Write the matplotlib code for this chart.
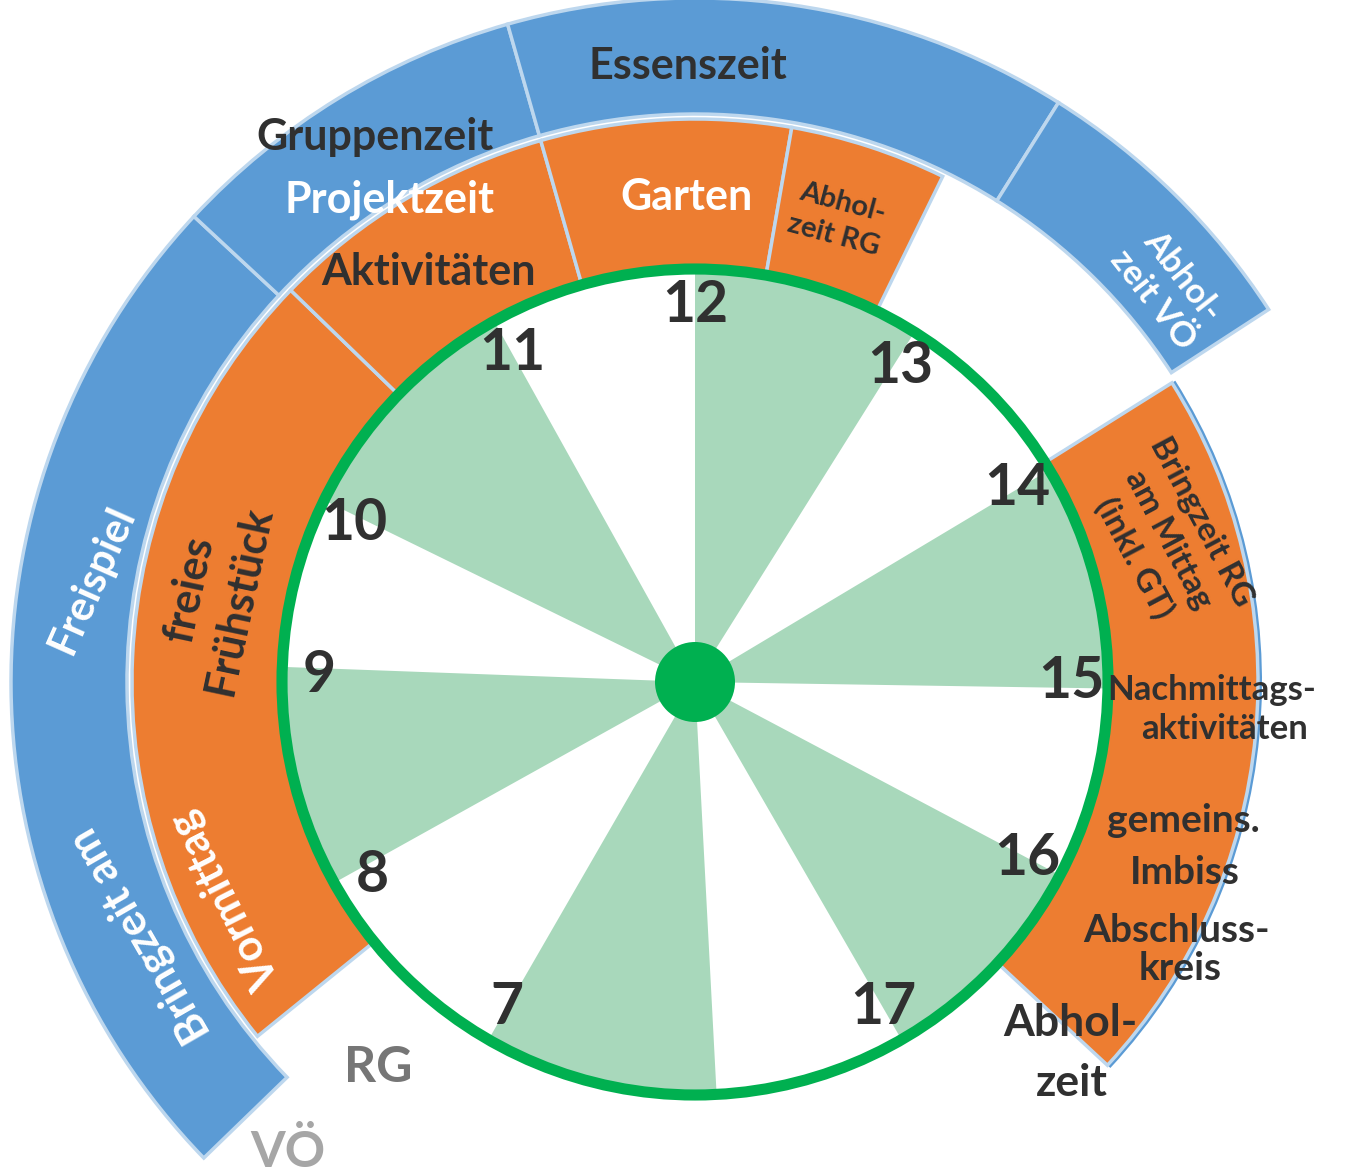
import matplotlib
matplotlib.use("Agg")
import matplotlib.pyplot as plt
from matplotlib.patches import Wedge, Circle
import numpy as np

W, H = 1359, 1174
CX, CY = 695, H - 682

# clock face: hour labels and the shaded hour wedges (hours of the day)
hours = [7, 8, 9, 10, 11, 12, 13, 14, 15, 16, 17]
hour_nudge = [0, -1, 1, -5, 1, 0, 3, -1, 0, -2, 0]      # deg, label position tweak
green_start = [5.9, 8.03, 9.87, 12.0, 13.97, 15.93]
green_end = [7.0, 9.07, 11.03, 13.07, 15.03, 17.0]

# inner ring: RG
rg_start = [7.7, 10.47, 11.47, 12.33, 13.93]
rg_end = [10.47, 11.47, 12.33, 12.87, 16.43]

# outer ring: VÖ
vo_start = [7.53, 10.43, 11.47, 13.07]
vo_end = [10.43, 11.47, 13.07, 13.9]

GREEN = "#00B050"
LGREEN = "#A8D8BB"
ORANGE = "#ED7D31"
BLUE = "#5B9BD5"
EDGE = "#BDD7EE"
DARK = "#303030"

R_CLOCK = 413
R_RG = 563
R_VO_IN, R_VO = 568, 684

plt.rcParams['font.family'] = ['Lato', 'DejaVu Sans']
plt.rcParams['font.weight'] = 'bold'

fig = plt.figure(figsize=(W / 100, H / 100), dpi=100)
ax = fig.add_axes([0, 0, 1, 1])
ax.set_xlim(0, W)
ax.set_ylim(0, H)
ax.set_aspect('equal')
ax.axis('off')


def theta(h):
    # clock hour -> matplotlib angle (deg, ccw from +x)
    return 90 - h * 30


def pos(h, r):
    a = np.radians(h * 30)
    return CX + r * np.sin(a), CY + r * np.cos(a)


for s, e in zip(green_start, green_end):
    ax.add_patch(Wedge((CX, CY), R_CLOCK, theta(e), theta(s), facecolor=LGREEN,
                       edgecolor='none', zorder=1))

# thin blue sliver under the right orange segment
ax.add_patch(Wedge((CX, CY), R_RG + 4, theta(rg_end[-1]), theta(rg_start[-1]),
                   width=8, facecolor=BLUE, edgecolor='none', zorder=2))

for s, e in zip(rg_start, rg_end):
    ax.add_patch(Wedge((CX, CY), R_RG, theta(e), theta(s), width=R_RG - R_CLOCK,
                       facecolor=ORANGE, edgecolor=EDGE, linewidth=2.5, zorder=3))

for s, e in zip(vo_start, vo_end):
    ax.add_patch(Wedge((CX, CY), R_VO, theta(e), theta(s), width=R_VO - R_VO_IN,
                       facecolor=BLUE, edgecolor=EDGE, linewidth=2.5, zorder=3))

ax.add_patch(Circle((CX, CY), R_CLOCK, facecolor='none', edgecolor=GREEN,
                    linewidth=8, zorder=4))
ax.add_patch(Circle((CX, CY), 40, facecolor=GREEN, edgecolor='none', zorder=5))

for h, d in zip(hours, hour_nudge):
    x, y = pos(h + d / 30, 376)
    ax.text(x, y, str(h), fontsize=41, color=DARK, ha='center', va='center', zorder=6)


def label(x, y, s, size, color=DARK, rot=0, ls=1.3):
    ax.text(x, H - y, s, fontsize=size, color=color, rotation=rot, ha='center',
            va='center', multialignment='center', linespacing=ls, zorder=7)


# outer ring texts
label(688, 66, "Essenszeit", 31)
label(375, 137, "Gruppenzeit", 31)
label(1168, 288, "Abhol-\nzeit VÖ", 25, 'white', -52, 1.2)
label(92, 580, "Freispiel", 30, 'white', 66)
label(140, 935, "Bringzeit am", 31, 'white', 120)

# inner ring texts
label(390, 200, "Projektzeit", 31, 'white')
label(428, 272, "Aktivitäten", 31)
label(686, 197, "Garten", 31, 'white')
label(838, 219, "Abhol-\nzeit RG", 21, DARK, -15, 1.35)
label(1168, 540, "Bringzeit RG\nam Mittag\n(inkl. GT)", 24, DARK, -62, 1.35)
label(1212, 690, "Nachmittags-", 25)
label(1225, 729, "aktivitäten", 25)
label(1183, 820, "gemeins.", 28)
label(1185, 873, "Imbiss", 28)
label(1177, 930, "Abschluss-", 28)
label(1180, 968, "kreis", 28)
label(225, 900, "Vormittag", 31, 'white', 117)
label(214, 595, "freies\nFrühstück", 31, DARK, 78, 1.3)

# outside texts
label(1070, 1023, "Abhol-", 32)
label(1072, 1083, "zeit", 32)
label(378, 1068, "RG", 36, '#767676')
label(288, 1152, "VÖ", 36, '#A6A6A6')

fig.savefig("out.png", dpi=100)
